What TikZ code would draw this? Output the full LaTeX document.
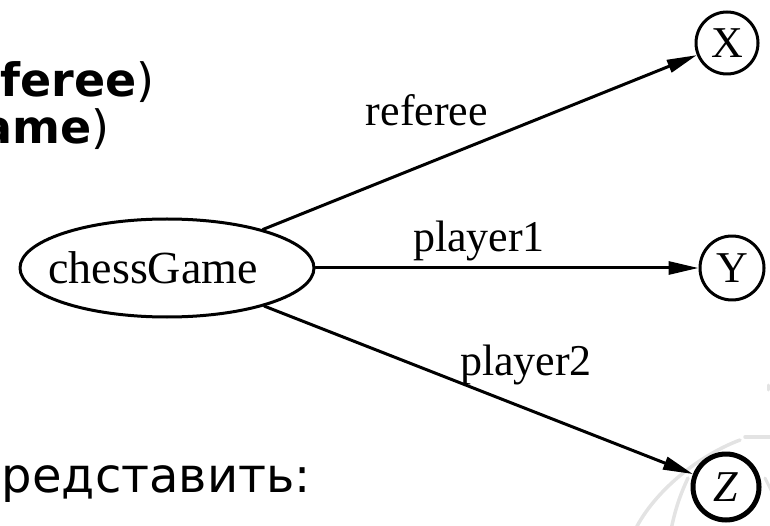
\documentclass[tikz,border=0pt]{standalone}
\usepackage{fontspec}
\setmainfont{DejaVu Sans}
\newfontfamily\graphfont{Liberation Serif}
\usepackage{pgf,tikz}
\usetikzlibrary{arrows,arrows.meta,shapes.geometric}
\begin{document}
\begin{tikzpicture}[line cap=round,line join=round,>={Triangle[length=30pt,width=13pt]},x=1pt,y=-1pt,
  gnode/.style={draw,circle,inner sep=0pt,line width=3pt,font=\graphfont\fontsize{44}{50}\selectfont},
  glabel/.style={inner sep=0pt,font=\graphfont\fontsize{44}{50}\selectfont},
  gedge/.style={->,line width=3pt},
  slidetext/.style={inner sep=0pt,font=\fontsize{46}{54}\selectfont}]
\useasboundingbox (0,0) rectangle (770,526);
\draw[gray!22,line width=3.5pt] (745,437) -- (772,437);
\draw[gray!22,line width=3.5pt] (740,440) .. controls (700,455) and (655,490) .. (635,530);
\draw[gray!22,line width=3.5pt] (688,478) .. controls (680,495) and (675,510) .. (671,530);
\draw[gray!22,line width=3pt] (768,385) -- (768,390);
\draw[gray!22,line width=3pt] (765,478) -- (772,492);
\node[slidetext,anchor=base east] (t1) at (155,97) {\textbf{feree})};
\node[slidetext,anchor=base east] (t2) at (110,144) {\textbf{ame})};
\node[slidetext,anchor=base east,font=\fontsize{48}{54}\selectfont] (t3) at (311,492) {представить:};
\node[draw,ellipse,minimum width=294pt,minimum height=98pt,inner sep=0pt,line width=3pt,font=\graphfont\fontsize{46}{50}\selectfont] (cg) at (167,268) {\hspace*{-28pt}chessGame};
\node[gnode,minimum size=62pt] (x) at (727,43) {X};
\node[gnode,minimum size=64pt] (y) at (732,268) {Y};
\node[gnode,minimum size=66pt,line width=5pt] (z) at (726,487) {\itshape Z};
\draw[gedge] (cg) -- (x);
\draw[gedge] (cg) -- (y);
\draw[gedge] (cg) -- (z);
\node[glabel] (lref) at (427,110) {referee};
\node[glabel] (lp1) at (479,241) {player1};
\node[glabel] (lp2) at (526,365) {player2};
\end{tikzpicture}
\end{document}
